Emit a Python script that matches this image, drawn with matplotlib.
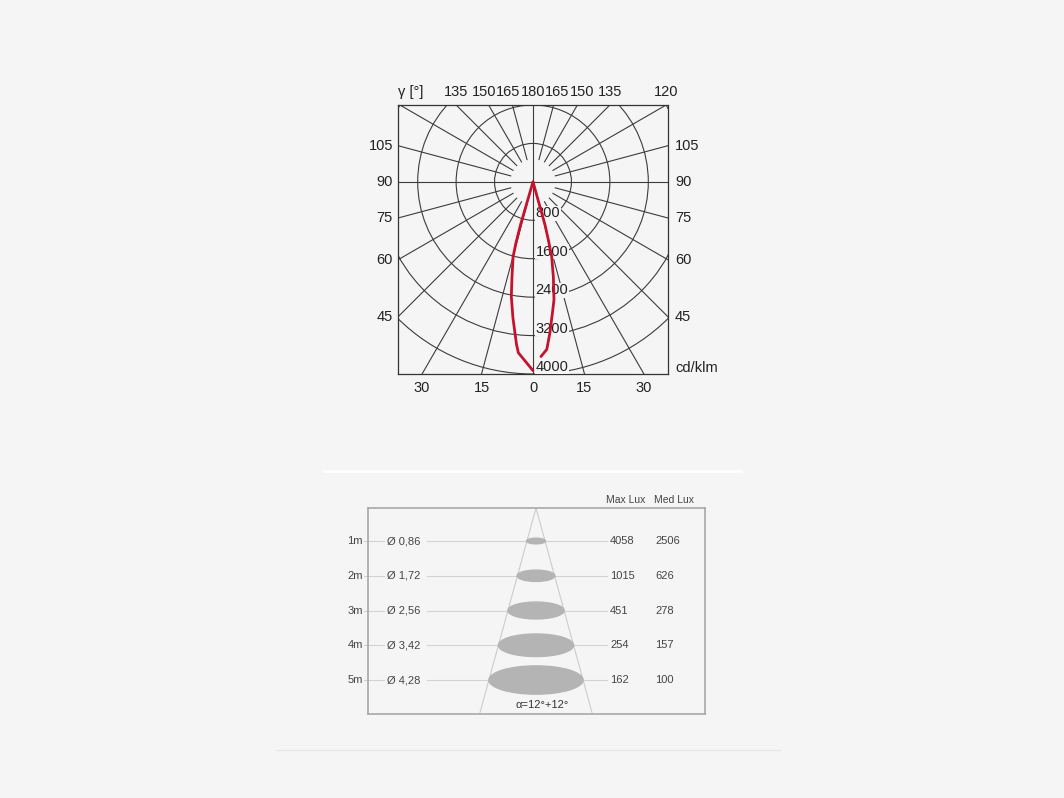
import numpy as np
import matplotlib.pyplot as plt
from matplotlib.patches import Circle, Ellipse
from matplotlib.lines import Line2D

plt.rcParams['font.family'] = ['Liberation Sans', 'DejaVu Sans']

W, H = 1064, 798
BG = '#f5f5f5'
RED = '#c4122f'

# polar curve, gamma (deg, + to the right) and intensity (cd/klm)
left_gamma = [-16.2, -16.2, -15.6, -14.9, -12.5, -10.7, -8.4, -5.8, -4.9, 0.0]
left_cd = [0, 930, 1320, 1610, 2020, 2430, 2860, 3400, 3570, 3930]
right_gamma = [15.6, 15.6, 14.8, 14.0, 12.1, 10.1, 8.6, 6.4, 4.7, 2.6]
right_cd = [0, 930, 1250, 1610, 2020, 2490, 2730, 3160, 3500, 3640]

rings = [800, 1600, 2400, 3200, 4000]
top_angles = [-135, -150, -165, 180, 165, 150, 135, 120]
left_angles = [-105, -90, -75, -60, -45]
right_angles = [105, 90, 75, 60, 45]
bottom_angles = [-30, -15, 0, 15, 30]

# beam table
distances = [1, 2, 3, 4, 5]
dist_labels = ['1m', '2m', '3m', '4m', '5m']
diameters = [0.86, 1.72, 2.56, 3.42, 4.28]
max_lux = [4058, 1015, 451, 254, 162]
med_lux = [2506, 626, 278, 157, 100]
beam_label = 'α=12°+12°'


def fbox(x0, y0, x1, y1):
    return [x0 / W, 1 - y1 / H, (x1 - x0) / W, (y1 - y0) / H]


fig = plt.figure(figsize=(W / 100, H / 100), dpi=100, facecolor=BG)

# ---------------- polar diagram ----------------
ax = fig.add_axes(fbox(398, 105, 668, 374))
ax.set_facecolor(BG)
XL, YB, YT = 2810, -4000, 1600
ax.set_xlim(-XL, XL)
ax.set_ylim(YB, YT)
ax.set_xticks([])
ax.set_yticks([])
for s in ax.spines.values():
    s.set_color('#333333')
    s.set_linewidth(0.9)
dpp = (YT - YB) / 269.0  # data units per pixel

grid_kw = dict(color='#3c3c3c', lw=0.8, zorder=1)
for r in rings:
    ax.add_patch(Circle((0, 0), r, fill=False, ec='#3c3c3c', lw=0.8, zorder=1))
for a in range(0, 360, 15):
    t = np.radians(a)
    r0 = 0 if a % 90 == 0 else 480
    ax.plot([r0 * np.sin(t), 7000 * np.sin(t)], [-r0 * np.cos(t), -7000 * np.cos(t)], **grid_kw)

for g, c in [(left_gamma, left_cd), (right_gamma, right_cd)]:
    t = np.radians(g)
    c = np.array(c)
    ax.plot(c * np.sin(t), -c * np.cos(t), color=RED, lw=2.0, zorder=4,
            solid_joinstyle='round', solid_capstyle='round')

for r in rings:
    ax.text(2.7 * dpp, -r + 3 * dpp, str(r), ha='left', va='baseline', fontsize=10.5,
            color='#222222', zorder=3,
            bbox=dict(facecolor=BG, edgecolor='none', pad=0.3))

tk = dict(fontsize=10.5, color='#222222', clip_on=False)
# top labels, pushed apart where they would collide
xs = [-YT * np.tan(np.radians(a)) for a in top_angles]
gap = 24.5 * dpp
ci = top_angles.index(180)
for i in range(ci + 1, len(xs)):
    xs[i] = max(xs[i], xs[i - 1] + gap)
for i in range(ci - 1, -1, -1):
    xs[i] = min(xs[i], xs[i + 1] - gap)
for a, x in zip(top_angles, xs):
    ax.text(x, YT + 13 * dpp, str(abs(a)), ha='center', va='center', **tk)
ax.text(-XL, YT + 13 * dpp, 'γ [°]', ha='left', va='center', **tk)

for a in left_angles:
    y = XL / np.tan(np.radians(a))
    ax.text(-XL - 5 * dpp, y, str(abs(a)), ha='right', va='center', **tk)
for a in right_angles:
    y = -XL / np.tan(np.radians(a))
    ax.text(XL + 7 * dpp, y, str(abs(a)), ha='left', va='center', **tk)
for a in bottom_angles:
    x = -YB * np.tan(np.radians(a))
    ax.text(x, YB - 14 * dpp, str(abs(a)), ha='center', va='center', **tk)
ax.text(XL + 7 * dpp, YB + 6 * dpp, 'cd/klm', ha='left', va='center', **tk)

# ---------------- beam table ----------------
bx = fig.add_axes(fbox(368, 508, 705, 714))
bx.set_facecolor(BG)
sx, sy = 22.0, 34.75  # px per metre
cx = 536
y0 = 0.05
bx.set_xlim((368 - cx) / sx, (705 - cx) / sx)
bx.set_ylim(y0 + 206 / sy, y0)
bx.set_xticks([])
bx.set_yticks([])
for s in bx.spines.values():
    s.set_color('#a8a8a8')
    s.set_linewidth(1.2)

k = diameters[-1] / 2 / (distances[-1] - y0)
ybot = y0 + 206 / sy
for sgn in (-1, 1):
    bx.plot([0, sgn * k * (ybot - y0)], [y0, ybot], color='#cccccc', lw=0.8, zorder=1)

px = lambda p: (p - cx) / sx
lt = dict(fontsize=8, color='#444444', va='center', clip_on=False)
for d, lab, dia, mx, md in zip(distances, dist_labels, diameters, max_lux, med_lux):
    bx.plot([px(364), px(384)], [d, d], color='#d2d2d2', lw=0.8, clip_on=False, zorder=1)
    bx.plot([px(427), px(607)], [d, d], color='#d2d2d2', lw=0.8, zorder=1)
    bx.add_patch(Ellipse((0, d), dia, dia * sx * 0.3 / sy, color='#b4b4b4', zorder=2))
    bx.text(px(363), d, lab, ha='right', **lt)
    bx.text(px(387), d, 'Ø ' + f'{dia:.2f}'.replace('.', ','), ha='left', **lt)
    bx.text(px(610), d, str(mx), ha='left', **lt)
    bx.text(px(655), d, str(md), ha='left', **lt)

bx.text(px(626), y0 - 8 / sy, 'Max Lux', ha='center', va='center', fontsize=7.5,
        color='#444444', clip_on=False)
bx.text(px(674), y0 - 8 / sy, 'Med Lux', ha='center', va='center', fontsize=7.5,
        color='#444444', clip_on=False)
bx.text(px(542), y0 + 197 / sy, beam_label, ha='center', va='center', fontsize=8,
        color='#333333')

# separators
fig.add_artist(Line2D([324 / W, 741 / W], [1 - 471 / H] * 2, color='white', lw=1.8))
fig.add_artist(Line2D([276 / W, 780 / W], [1 - 750 / H] * 2, color='#e8e8e8', lw=1.0))

fig.savefig('out.png', dpi=100, facecolor=BG)
